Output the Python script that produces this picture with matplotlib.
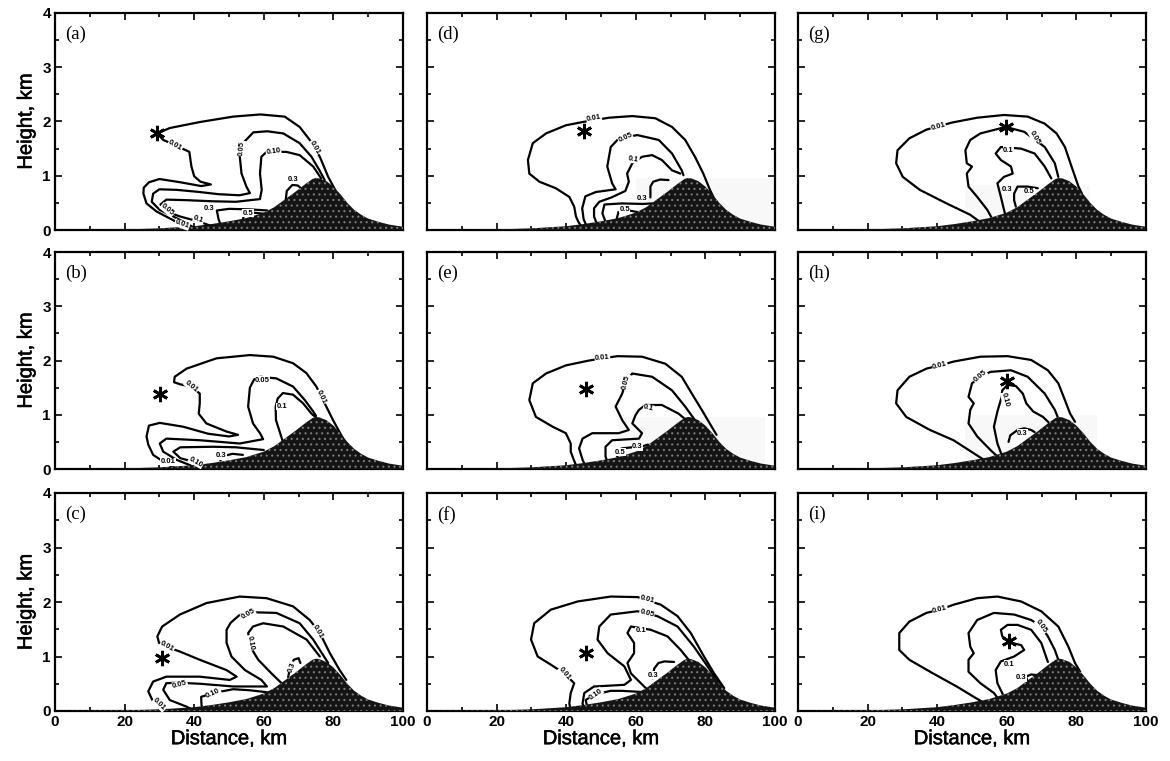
import matplotlib
matplotlib.use("Agg")
import matplotlib.pyplot as plt
import matplotlib.patheffects as pe
from matplotlib.ticker import MultipleLocator

# ---------------- data ----------------
panel_ids = ["a", "b", "c", "d", "e", "f", "g", "h", "i"]
distance_ticks = [0, 20, 40, 60, 80, 100]
height_ticks = [0, 1, 2, 3, 4]

terrain_km = [0, 10, 20, 25, 30, 35, 40, 45, 50, 55, 60, 63, 66, 69, 72, 74, 75, 76,
              78, 80, 82, 84, 86, 88, 90, 93, 96, 100]
terrain_h = [0, 0.005, 0.012, 0.02, 0.03, 0.05, 0.07, 0.11, 0.16, 0.22, 0.32, 0.42, 0.56,
             0.7, 0.85, 0.94, 0.96, 0.95, 0.9, 0.8, 0.66, 0.5, 0.37, 0.28, 0.21, 0.15, 0.1, 0.06]

source_km = [29.3, 30.1, 30.8, 45.1, 45.6, 45.6, 59.7, 60.2, 60.7]
source_h = [1.78, 1.39, 0.97, 1.82, 1.47, 1.07, 1.9, 1.62, 1.29]

# faint light patches of the scanned print (distance from, distance to, height top); None = none
scan_patch = [None, None, None, (60, 100, 0.95), (55, 97, 0.96), None,
              (48, 84, 0.83), (48, 86, 0.99), None]

# contour lines: (level, distance km, height km)
contours_a = [
    (0.01, [80.5, 78.5, 76.1, 73.2, 70.3, 66, 59, 51.2, 41.6, 33, 29.3, 31.1, 34, 38.6, 39.2, 40,
            41.8, 44.8, 42, 36, 30, 27, 25.5, 25.4, 26.3, 29.2, 34, 36.8, 38],
           [0.74, 0.98, 1.35, 1.66, 1.9, 2.09, 2.13, 2.09, 1.99, 1.88, 1.78, 1.66, 1.58, 1.44, 1.17,
            0.99, 0.89, 0.84, 0.81, 0.88, 0.94, 0.88, 0.78, 0.67, 0.49, 0.34, 0.18, 0.06, 0.0]),
    (0.05, [77.5, 76, 73.7, 70.3, 65.6, 61, 57, 54, 53.1, 53.6, 55, 56, 53, 47, 41.6, 35, 30, 28.2,
            27.8, 30.1, 34, 37.8, 40.7],
           [0.92, 1.1, 1.35, 1.6, 1.78, 1.82, 1.8, 1.6, 1.35, 1.04, 0.8, 0.68, 0.64, 0.66, 0.7, 0.74,
            0.75, 0.67, 0.52, 0.37, 0.25, 0.12, 0.02]),
    (0.10, [76.5, 74.2, 70.3, 66.5, 60.8, 59.3, 58.9, 59.4, 58.9, 52, 45, 37.8, 32, 30.3, 32, 35.9,
            41.6, 45.5, 47.4],
           [0.95, 1.17, 1.38, 1.44, 1.44, 1.35, 1.04, 0.74, 0.57, 0.52, 0.53, 0.55, 0.56, 0.47, 0.34,
            0.25, 0.15, 0.06, 0.0]),
    (0.3, [66.3, 66.6, 68.2, 69.8, 71], [0.55, 0.72, 0.83, 0.82, 0.75]),
    (0.3, [47.8, 47, 46.5, 50, 56, 61], [0.06, 0.2, 0.36, 0.39, 0.38, 0.36]),
    (0.5, [54, 54.3, 57, 60], [0.18, 0.3, 0.32, 0.3]),
]
contours_b = [
    (0.01, [82.8, 79.9, 77.5, 75.1, 72.2, 68.4, 62.7, 56, 46.4, 37.8, 34.4, 34.2, 36, 39.2, 41.6,
            41.6, 41.3, 43.5, 49.3, 52.6, 50, 44, 36.8, 30.1, 27, 26.3, 26.8, 28.2, 32, 34.9],
           [0.56, 0.9, 1.21, 1.52, 1.77, 1.95, 2.07, 2.1, 2.04, 1.85, 1.7, 1.6, 1.56, 1.52, 1.39,
            1.21, 1.02, 0.84, 0.69, 0.63, 0.6, 0.65, 0.78, 0.85, 0.8, 0.6, 0.45, 0.26, 0.1, 0.0]),
    (0.05, [75, 74.2, 71.8, 68.4, 63.6, 59, 57.2, 56, 55.5, 56.9, 58.9, 59.8, 53.1, 41.6, 32, 30.1,
            31.1, 34.9, 38.8, 40.7],
           [0.98, 1.06, 1.27, 1.52, 1.67, 1.7, 1.65, 1.5, 1.15, 0.84, 0.66, 0.55, 0.47, 0.53, 0.56,
            0.47, 0.32, 0.17, 0.07, 0.0]),
    (0.1, [65.5, 64.5, 63.5, 63.4, 64, 65.5, 68.4, 71.3, 73.7, 75],
          [0.5, 0.7, 0.9, 1.15, 1.3, 1.4, 1.37, 1.21, 1.02, 0.95]),
    (0.10, [60, 52, 45.5, 36, 34, 36, 41.6, 44.5], [0.35, 0.4, 0.41, 0.4, 0.32, 0.2, 0.1, 0.02]),
    (0.3, [47.5, 48.5, 51, 54], [0.16, 0.24, 0.28, 0.26]),
]
contours_c = [
    (0.01, [83.7, 81.8, 79, 76.1, 73.2, 68.4, 60.8, 53.1, 43.5, 35.9, 30.8, 29.4, 29.9, 32, 35.9,
            41.6, 49.3, 52.2, 50.2, 41.6, 32, 28.2, 26.8, 28.2, 32],
           [0.57, 0.75, 1.06, 1.43, 1.67, 1.92, 2.07, 2.1, 1.98, 1.77, 1.55, 1.37, 1.25, 1.18, 1.09,
            0.94, 0.75, 0.63, 0.57, 0.63, 0.63, 0.54, 0.36, 0.17, 0.02]),
    (0.05, [78.5, 77, 74.2, 70.3, 63.6, 57.9, 53, 50.5, 49.3, 49.3, 50.7, 54.6, 59.3, 60.9, 57, 51.2,
            41.6, 35, 32, 31.1, 33, 37.8, 40.2],
           [0.88, 1.03, 1.31, 1.61, 1.8, 1.81, 1.76, 1.62, 1.49, 1.25, 1.0, 0.75, 0.57, 0.45, 0.45,
            0.45, 0.5, 0.52, 0.51, 0.39, 0.2, 0.08, 0.0]),
    (0.10, [76.1, 72.3, 65.6, 59.8, 56.9, 55.5, 56.4, 58.4, 62.2, 65.1],
           [1.0, 1.31, 1.55, 1.61, 1.55, 1.43, 1.15, 0.94, 0.69, 0.51]),
    (0.10, [61.5, 56, 51.2, 45.5, 42, 42.1, 42.6], [0.34, 0.38, 0.4, 0.33, 0.26, 0.11, 0.0]),
    (0.3, [67, 67.5, 68.6, 70, 70.5], [0.62, 0.78, 0.94, 0.97, 0.88]),
]
contours_d = [
    (0.01, [82.3, 81.3, 79.4, 77, 74.2, 70.4, 65.6, 59, 52.3, 44.7, 39.9, 34.2, 30.4, 29, 29.4,
            32.3, 37, 40.9, 42.3, 42.8, 43.5, 44.7],
           [0.61, 0.74, 1.04, 1.35, 1.66, 1.9, 2.06, 2.1, 2.07, 1.99, 1.93, 1.78, 1.6, 1.29, 1.04,
            0.89, 0.77, 0.61, 0.43, 0.25, 0.15, 0.03]),
    (0.05, [73.7, 73.2, 70.4, 66.6, 60.4, 55, 52.8, 51.8, 53.2, 54.2, 48.5, 45.5, 44.6, 45, 46],
           [1.01, 1.1, 1.41, 1.66, 1.75, 1.68, 1.53, 1.17, 0.86, 0.75, 0.7, 0.62, 0.4, 0.2, 0.05]),
    (0.1, [72.8, 70.4, 67.5, 64.7, 61.8, 59, 57.5, 58, 57, 53, 49.5, 48, 48, 49],
          [1.04, 1.1, 1.29, 1.38, 1.35, 1.23, 1.04, 0.89, 0.72, 0.6, 0.52, 0.4, 0.25, 0.08]),
    (0.3, [64.2, 64.2, 65, 67, 69.4], [0.6, 0.8, 0.89, 0.93, 0.92]),
    (0.3, [51.3, 50.4, 51, 56, 62, 64.7], [0.15, 0.31, 0.47, 0.49, 0.48, 0.49]),
    (0.5, [54.5, 55, 58, 60.5], [0.2, 0.33, 0.36, 0.33]),
]
contours_e = [
    (0.01, [83.2, 81.8, 78.95, 76.1, 73.2, 68.5, 61.8, 54.7, 46.6, 39.9, 34.2, 30.4, 29.4, 31.3,
            36.1, 39.9, 41.3, 41.3, 42, 42.8],
           [0.63, 0.78, 1.09, 1.39, 1.7, 1.94, 2.07, 2.08, 2.0, 1.91, 1.76, 1.58, 1.27, 0.96, 0.78,
            0.66, 0.47, 0.32, 0.2, 0.07]),
    (0.05, [77, 74.2, 70.4, 64.7, 59, 57, 56.1, 54.2, 56.1, 58, 55.1, 47.5, 44.7, 43.7, 44.7, 45.6],
           [0.9, 1.15, 1.45, 1.7, 1.76, 1.6, 1.39, 1.15, 0.9, 0.72, 0.66, 0.66, 0.56, 0.38, 0.17, 0.04]),
    (0.1, [75.1, 72.3, 67.5, 62.8, 60.9, 59.9, 59, 61.8, 60.9, 53.2, 51.3, 51.3, 52.3],
          [0.87, 1.02, 1.18, 1.18, 1.09, 0.99, 0.84, 0.66, 0.56, 0.53, 0.41, 0.23, 0.04]),
    (0.3, [55, 54, 56, 62, 63.5], [0.2, 0.3, 0.38, 0.42, 0.45]),
]
contours_f = [
    (0.01, [85.4, 82.5, 79.6, 75.8, 72, 67.2, 60.5, 52.8, 43.3, 35.6, 30.8, 29.9, 31.8, 35.6, 39.4,
            42.3, 41.3, 40.9, 41.3],
           [0.42, 0.69, 1.0, 1.43, 1.74, 1.95, 2.09, 2.1, 2.01, 1.86, 1.61, 1.31, 1.0, 0.85, 0.69,
            0.51, 0.33, 0.14, 0.0]),
    (0.05, [84.4, 80.6, 76.7, 72, 66.2, 60.5, 52.8, 49.5, 49, 51.9, 56.7, 58.6, 56.7, 48, 45.2,
            44.7, 45.2],
           [0.45, 0.82, 1.18, 1.55, 1.74, 1.83, 1.77, 1.55, 1.31, 1.06, 0.82, 0.57, 0.48, 0.45, 0.33,
            0.14, 0.0]),
    (0.1, [76.7, 72.9, 69.1, 64.3, 58.6, 57.6, 59.5, 59.5, 57.6, 58.6, 62.4, 64.3],
          [0.82, 1.12, 1.37, 1.49, 1.55, 1.43, 1.25, 1.06, 0.88, 0.69, 0.45, 0.33]),
    (0.10, [61.4, 56, 52.8, 48, 45.6, 46.1], [0.35, 0.37, 0.37, 0.3, 0.2, 0.06]),
    (0.3, [64.8, 65.3, 66.5, 68.2, 71], [0.6, 0.78, 0.88, 0.91, 0.9]),
]
contours_g = [
    (0.01, [81.6, 80.6, 78.6, 76.7, 74.3, 70.9, 66, 59.2, 51.5, 44.2, 40.3, 36.9, 32, 28.6, 28.2,
            30.1, 35, 42.7, 49.5, 52.9],
           [0.67, 0.8, 1.17, 1.53, 1.78, 1.96, 2.09, 2.12, 2.07, 1.98, 1.91, 1.85, 1.69, 1.47, 1.23,
            0.98, 0.74, 0.49, 0.28, 0.12]),
    (0.05, [74.8, 73.8, 70.9, 65, 59.7, 52.4, 49.5, 48.1, 48.5, 50, 48.5, 49, 51.5, 54.4, 56.3],
           [0.98, 1.23, 1.53, 1.81, 1.9, 1.78, 1.66, 1.47, 1.23, 1.17, 1.04, 0.8, 0.61, 0.37, 0.15]),
    (0.1, [72.8, 70.9, 68, 64.1, 60.2, 58.3, 56.8, 58.3, 61.2, 61.7, 59.2, 57.3, 58.3, 59.2, 59.7],
          [0.95, 1.17, 1.41, 1.5, 1.52, 1.53, 1.41, 1.29, 1.17, 1.04, 0.98, 0.86, 0.61, 0.37, 0.25]),
    (0.3, [62.6, 62.1, 62.1, 63.1, 66, 68.9], [0.43, 0.55, 0.67, 0.8, 0.8, 0.77]),
]
contours_h = [
    (0.01, [79.6, 78.2, 76.7, 74.8, 71.8, 67, 60.2, 52.4, 44.7, 40.8, 36.9, 32, 28.6, 28.2, 31.1,
            37.9, 44.7, 50.5, 53.4],
           [0.87, 1.02, 1.27, 1.58, 1.82, 2.01, 2.08, 2.07, 1.98, 1.91, 1.85, 1.7, 1.45, 1.21, 0.96,
            0.72, 0.53, 0.29, 0.17]),
    (0.05, [74.8, 73.8, 70.9, 66, 61.2, 55.3, 52.4, 50, 49, 50.5, 49.5, 49, 51.5, 55.3, 57.3],
           [0.93, 1.09, 1.39, 1.7, 1.82, 1.79, 1.7, 1.58, 1.33, 1.21, 1.09, 0.84, 0.6, 0.35, 0.23]),
    (0.10, [58.7, 57.3, 56.3, 57.3, 58.4, 58.7, 60.2, 62.6, 64.6, 65.6, 67.6, 70.4, 72],
           [0.23, 0.47, 0.78, 1.06, 1.3, 1.45, 1.55, 1.53, 1.39, 1.21, 1.06, 0.96, 0.86]),
    (0.3, [60.5, 61, 63.1, 65, 67, 68], [0.5, 0.62, 0.72, 0.75, 0.72, 0.68]),
]
contours_i = [
    (0.01, [81.1, 79.6, 77.7, 74.8, 69.9, 64.1, 57.3, 51.5, 44.7, 40.8, 36.9, 32, 29.1, 29.1, 32,
            38.8, 45.6, 50.5, 52.9],
           [0.72, 0.88, 1.18, 1.55, 1.83, 2.01, 2.1, 2.07, 1.95, 1.86, 1.8, 1.64, 1.43, 1.12, 0.94,
            0.69, 0.45, 0.26, 0.17]),
    (0.05, [74.8, 73.8, 71.8, 69.9, 67, 62.1, 56.3, 51.5, 49, 49.5, 50.5, 49, 49, 52.4, 56.3, 57.8],
           [0.94, 1.12, 1.37, 1.55, 1.67, 1.77, 1.8, 1.67, 1.43, 1.18, 1.06, 0.94, 0.72, 0.51, 0.33, 0.2]),
    (0.1, [71.8, 69.9, 67, 63.1, 60.2, 58.3, 58.7, 61.2, 64.1, 65, 62.1, 58.3, 56.8, 57.3, 59.2],
          [0.9, 1.25, 1.49, 1.58, 1.58, 1.49, 1.37, 1.25, 1.21, 1.12, 1.0, 0.91, 0.75, 0.51, 0.26]),
    (0.3, [66, 65.5, 67, 68.5], [0.55, 0.63, 0.67, 0.66]),
]
panel_contours = [contours_a, contours_b, contours_c, contours_d, contours_e,
                  contours_f, contours_g, contours_h, contours_i]

# inline contour labels: text, distance, height, rotation (deg on screen)
labels_a = [("0.01", 34.5, 1.55, -30), ("0.01", 74.6, 1.52, -60), ("0.05", 53.6, 1.5, 85),
            ("0.10", 62.8, 1.44, 8), ("0.3", 68.4, 0.93, 0), ("0.3", 44.3, 0.39, 0),
            ("0.5", 55.5, 0.31, 0), ("0.05", 32.3, 0.37, -40), ("0.1", 41.3, 0.2, -20),
            ("0.01", 36.5, 0.1, -20)]
labels_b = [("0.01", 39.2, 1.52, -40), ("0.05", 59.6, 1.64, 0), ("0.01", 76.5, 1.33, -65),
            ("0.1", 65.2, 1.15, 0), ("0.01", 32.5, 0.13, 0), ("0.10", 40.5, 0.13, -30),
            ("0.3", 47.8, 0.24, 0)]
labels_c = [("0.01", 32.2, 1.18, -30), ("0.05", 55.5, 1.78, 30), ("0.01", 75.6, 1.46, -60),
            ("0.10", 56.2, 1.25, -80), ("0.05", 35.9, 0.49, 15), ("0.10", 45.5, 0.33, 25),
            ("0.3", 68.2, 0.8, 70), ("0.01", 30.0, 0.12, -45)]
labels_d = [("0.01", 48.0, 2.06, 10), ("0.05", 57.0, 1.7, 25), ("0.1", 59.4, 1.3, -10),
            ("0.3", 61.8, 0.58, 0), ("0.5", 56.8, 0.38, 0)]
labels_e = [("0.01", 50.4, 2.05, 5), ("0.05", 57.3, 1.6, 75), ("0.1", 63.7, 1.12, -15),
            ("0.3", 60.5, 0.41, 0), ("0.5", 55.5, 0.31, 0)]
labels_f = [("0.01", 63.3, 2.05, -15), ("0.05", 63.2, 1.79, -15), ("0.1", 61.4, 1.47, 0),
            ("0.01", 39.5, 0.68, -50), ("0.10", 48.5, 0.31, 35), ("0.3", 65.0, 0.66, 0)]
labels_g = [("0.01", 40.3, 1.9, 15), ("0.05", 68.0, 1.7, -60), ("0.1", 60.5, 1.47, 0),
            ("0.3", 60.2, 0.74, 0), ("0.5", 66.5, 0.71, 0)]
labels_h = [("0.01", 40.8, 1.9, 15), ("0.05", 52.3, 1.71, 40), ("0.10", 59.6, 1.27, -75),
            ("0.3", 64.5, 0.66, 0)]
labels_i = [("0.01", 40.8, 1.86, 15), ("0.05", 69.9, 1.55, -55), ("0.1", 60.7, 0.86, 0),
            ("0.3", 64.1, 0.61, 0)]
panel_labels = [labels_a, labels_b, labels_c, labels_d, labels_e,
                labels_f, labels_g, labels_h, labels_i]

# ---------------- layout ----------------
W, H = 1170, 761
col_left_px = [55, 427, 798]
col_width_px = 348
row_top_px = [13, 252, 493]
row_bottom_px = [230, 469, 711]

plt.rcParams["hatch.linewidth"] = 0.8
fig = plt.figure(figsize=(W / 100, H / 100), dpi=100)
tick_font = dict(family="Liberation Sans", weight="bold", size=11)
bold_fx = [pe.withStroke(linewidth=0.4, foreground="black")]

for k, pid in enumerate(panel_ids):
    col, row = divmod(k, 3)
    left = col_left_px[col] / W
    bottom = 1 - row_bottom_px[row] / H
    height = (row_bottom_px[row] - row_top_px[row]) / H
    ax = fig.add_axes([left, bottom, col_width_px / W, height])
    ax.set_xlim(0, 100)
    ax.set_ylim(0, 4)

    if scan_patch[k] is not None:
        x0, x1, ztop = scan_patch[k]
        ax.fill_between([x0, x1], 0, ztop, color="#f8f8f8", linewidth=0, zorder=1)

    # contour lines
    for level, xs, zs in panel_contours[k]:
        ax.plot(xs, zs, color="black", lw=1.6, solid_joinstyle="round",
                solid_capstyle="round", zorder=2)
    # terrain
    ax.fill_between(terrain_km, 0, terrain_h, facecolor="#141414", edgecolor="#7a7a7a",
                    hatch="...", linewidth=0, zorder=3)
    # contour labels
    for txt, lx, lz, rot in panel_labels[k]:
        ax.text(lx, lz, txt, fontsize=5.5, family="Liberation Sans", weight="bold",
                rotation=rot, ha="center", va="center", zorder=4,
                bbox=dict(boxstyle="square,pad=0.05", fc="white", ec="none"))
    # source marker
    ax.plot(source_km[k], source_h[k], marker=(6, 2, 0), ms=11, mew=2.0,
            color="black", zorder=5)
    # panel tag
    ax.text(0.03, 0.9, f"({pid})", transform=ax.transAxes, fontsize=13.5,
            family="Liberation Serif", ha="left", va="center")

    ax.set_xticks(distance_ticks)
    ax.set_yticks(height_ticks)
    ax.xaxis.set_minor_locator(MultipleLocator(10))
    ax.yaxis.set_minor_locator(MultipleLocator(0.5))
    ax.tick_params(which="both", direction="in", top=True, right=True, width=1.2, pad=3)
    ax.tick_params(which="major", length=5)
    ax.tick_params(which="minor", length=3)
    for s in ax.spines.values():
        s.set_linewidth(1.6)

    if col == 0:
        ax.set_yticklabels([str(t) for t in height_ticks], fontdict=tick_font)
        ax.set_ylabel("Height, km", family="Liberation Sans", fontsize=14.5, labelpad=5,
                      path_effects=bold_fx)
    else:
        ax.set_yticklabels([])
    if row == 2:
        ax.set_xticklabels([str(t) for t in distance_ticks], fontdict=tick_font)
        ax.set_xlabel("Distance, km", family="Liberation Sans", fontsize=14.5, labelpad=0,
                      path_effects=bold_fx)
    else:
        ax.set_xticklabels([])

fig.savefig("out.png", dpi=100)
